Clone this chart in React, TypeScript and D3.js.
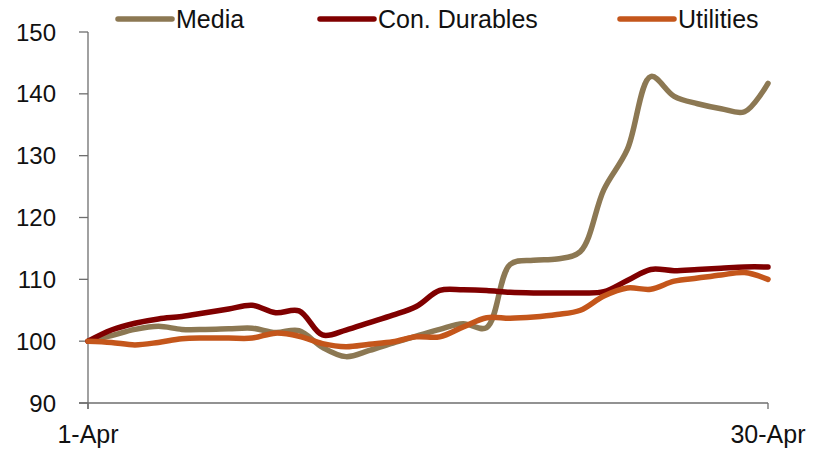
import React from "react";
import * as d3 from "d3";

const days: number[] = Array.from({ length: 30 }, (_, i) => i + 1);

const media: number[] = [
  100, 100.9, 101.9, 102.4, 101.9, 101.9, 102.0, 102.1, 101.4, 101.7,
  99.0, 97.5, 98.5, 99.7, 100.8, 101.9, 102.8, 102.2, 112.4, 113.1,
  113.3, 114.5, 124.5, 131.0, 142.8, 139.6, 138.4, 137.6, 137.1, 141.7,
];

const conDurables: number[] = [
  100, 101.8, 102.9, 103.6, 104.0, 104.6, 105.2, 105.8, 104.6, 104.9,
  101.0, 101.8, 103.0, 104.2, 105.6, 108.2, 108.3, 108.2, 107.9, 107.8,
  107.8, 107.8, 108.0, 109.8, 111.6, 111.4, 111.6, 111.8, 112.0, 112.0,
];

const utilities: number[] = [
  100, 99.8, 99.4, 99.8, 100.4, 100.5, 100.5, 100.5, 101.3, 100.8,
  99.6, 99.1, 99.5, 99.9, 100.7, 100.7, 102.3, 103.8, 103.7, 103.9,
  104.3, 105.0, 107.3, 108.6, 108.4, 109.7, 110.2, 110.7, 111.1, 110.0,
];

const seriesNames: string[] = ["Media", "Con. Durables", "Utilities"];
const seriesColors: string[] = ["#8c7853", "#800000", "#c4561b"];
const yTicks: number[] = [90, 100, 110, 120, 130, 140, 150];
const xTickDays: number[] = [1, 30];
const xTickLabels: string[] = ["1-Apr", "30-Apr"];

export default function App() {
  const W = 817;
  const H = 449;
  const x = d3.scaleLinear().domain([1, 30]).range([88, 768]);
  const y = d3.scaleLinear().domain([90, 150]).range([403, 32]);
  const line = d3
    .line<number>()
    .x((_, i) => x(days[i]))
    .y((v) => y(v))
    .curve(d3.curveCatmullRom.alpha(0.5));
  const allSeries = [media, conDurables, utilities];
  const axisColor = "#6e6e6e";
  const font = "'Liberation Sans', Arial, sans-serif";
  const legendX = [118, 320, 620];

  return (
    <svg
      width={W}
      height={H}
      style={{ position: "fixed", left: 0, top: 0, background: "#fff" }}
      fontFamily={font}
    >
      {/* y axis */}
      <line x1={88} x2={88} y1={y(150)} y2={y(90) + 6} stroke={axisColor} strokeWidth={1.3} />
      {yTicks.map((t) => (
        <g key={t}>
          <line x1={79} x2={88} y1={y(t)} y2={y(t)} stroke={axisColor} strokeWidth={1.3} />
          <text x={56} y={y(t)} dy="0.36em" textAnchor="end" fontSize={24} fill="#111">
            {t}
          </text>
        </g>
      ))}
      {/* x axis */}
      <line x1={79} x2={768} y1={y(90)} y2={y(90)} stroke={axisColor} strokeWidth={1.3} />
      {xTickDays.map((d, i) => (
        <g key={d}>
          <line x1={x(d)} x2={x(d)} y1={y(90)} y2={y(90) + 6} stroke={axisColor} strokeWidth={1.3} />
          <text x={x(d)} y={443} textAnchor="middle" fontSize={25} fill="#111">
            {xTickLabels[i]}
          </text>
        </g>
      ))}
      {/* series */}
      {allSeries.map((s, i) => (
        <path
          key={seriesNames[i]}
          d={line(s) || ""}
          fill="none"
          stroke={seriesColors[i]}
          strokeWidth={5.5}
          strokeLinecap="round"
          strokeLinejoin="round"
        />
      ))}
      {/* legend */}
      {seriesNames.map((n, i) => (
        <g key={n}>
          <line
            x1={legendX[i]}
            x2={legendX[i] + 54}
            y1={19}
            y2={19}
            stroke={seriesColors[i]}
            strokeWidth={5.5}
            strokeLinecap="round"
          />
          <text x={legendX[i] + 58} y={28} fontSize={25} fill="#111">
            {n}
          </text>
        </g>
      ))}
    </svg>
  );
}
